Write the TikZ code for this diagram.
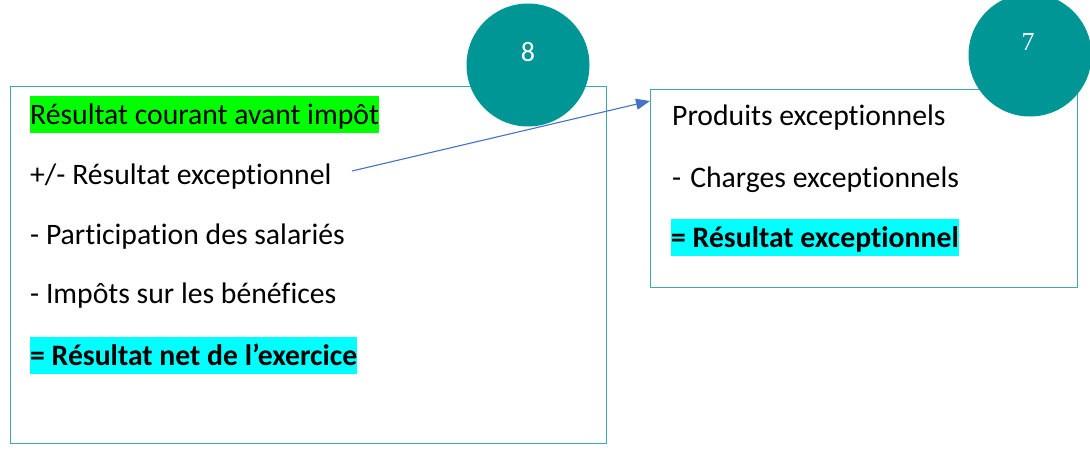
\documentclass[tikz,border=0pt]{standalone}
\usepackage{fontspec}
\setmainfont{Carlito}[Ligatures=NoCommon]
\newfontfamily\sevenfont{Liberation Serif}
\usetikzlibrary{arrows.meta}
\definecolor{boxteal}{RGB}{60,170,170}
\definecolor{circteal}{RGB}{0,150,150}
\definecolor{arrowblue}{RGB}{68,114,196}
\definecolor{hlgreen}{RGB}{0,255,0}
\definecolor{hlcyan}{RGB}{0,255,255}
\tikzset{
  panel/.style={draw=boxteal, line width=1.4pt, fill=white},
  badge/.style={circle, fill=circteal, minimum size=123pt, inner sep=0pt},
  badgetxt/.style={text=white, font=\fontsize{28}{32}\selectfont},
  line/.style={anchor=west, inner sep=0pt, font=\fontsize{29.7}{34}\selectfont},
  hl/.style={line, minimum height=37pt, text depth=0pt},
  boldline/.style={hl, font=\fontsize{29.7}{34}\selectfont\bfseries},
  conn/.style={draw=arrowblue, line width=1.1pt, -{Triangle[length=14pt,width=11pt]}}
}
\begin{document}
\begin{tikzpicture}[x=1pt,y=1pt]
\useasboundingbox (0,0) rectangle (1090,451);
\clip (0,0) rectangle (1090,451);
% left panel
\node[panel, minimum width=596pt, minimum height=357pt, anchor=north west, inner sep=0pt] (lbox) at (10,365) {};
\node[badge] (b8) at (528,386) {};
\node[badgetxt] (t8) at (528,399) {8};
\node[hl, fill=hlgreen] (l1) at (30,336.5) {Résultat courant avant impôt};
\node[line] (l2) at (30,274) {+/- Résultat exceptionnel};
\node[line] (l3) at (30,214) {- Participation des salariés};
\node[line] (l4) at (30,155) {- Impôts sur les bénéfices};
\node[boldline, fill=hlcyan] (l5) at (30,96) {= Résultat net de l’exercice};
% right panel
\node[panel, minimum width=427pt, minimum height=198pt, anchor=north west, inner sep=0pt] (rbox) at (650,362) {};
\node[badge] (b7) at (1030,396) {};
\node[badgetxt, font=\fontsize{26}{30}\selectfont\sevenfont] (t7) at (1028,409) {7};
\node[line] (r1) at (672,333) {Produits exceptionnels};
\node[line] (r2) at (672,271) {-\hspace{9pt}Charges exceptionnels};
\node[boldline, fill=hlcyan] (r3) at (671,214) {= Résultat exceptionnel};
% connector
\coordinate (astart) at (352,280);
\draw[conn] (astart) -- ([yshift=-12pt]rbox.north west);
\end{tikzpicture}
\end{document}
